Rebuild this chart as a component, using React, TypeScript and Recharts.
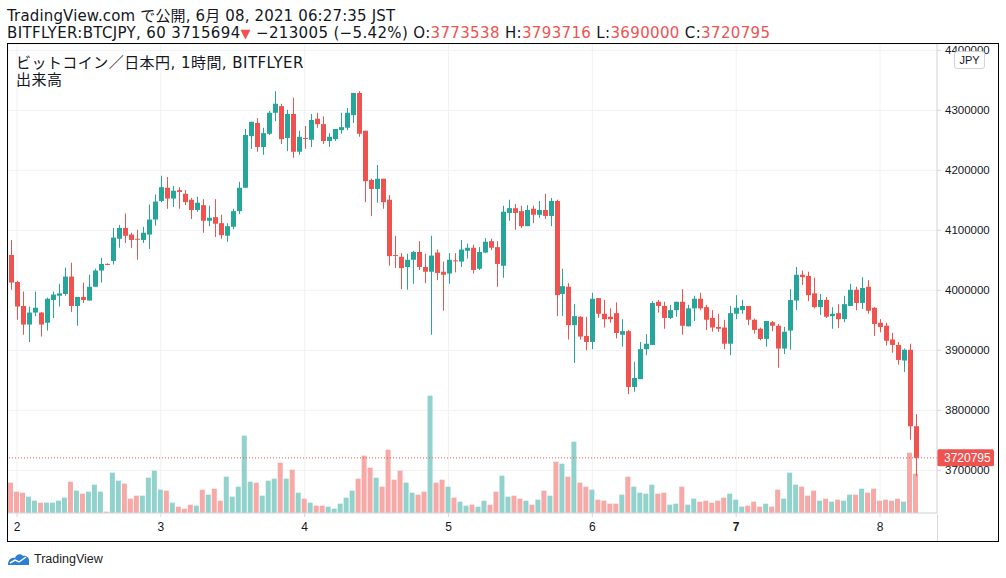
import React from 'react';
import { ComposedChart, Bar, XAxis, YAxis, CartesianGrid, ReferenceLine, Cell } from 'recharts';

// BITFLYER BTC/JPY, 1h candles from Jun 1 23:00 JST. prices in thousand yen
const open = [
  4059, 4014, 3974, 3943, 3963, 3963, 3946, 3984, 3991, 3994,
  4023, 3974, 3989, 3983, 4006, 4033, 4044, 4049, 4086, 4104,
  4093, 4086, 4084, 4093, 4118, 4149, 4171, 4153, 4167, 4161,
  4151, 4134, 4142, 4116, 4122, 4112, 4091, 4106, 4132, 4171,
  4257, 4279, 4239, 4261, 4296, 4307, 4254, 4294, 4231, 4254,
  4251, 4286, 4277, 4249, 4252, 4267, 4271, 4292, 4329, 4266,
  4184, 4169, 4186, 4151, 4059, 4056, 4039, 4051, 4064, 4039,
  4031, 4063, 4031, 4028, 4050, 4048, 4066, 4071, 4036, 4063,
  4082, 4072, 4041, 4129, 4137, 4132, 4107, 4136, 4126, 4134,
  4124, 4149, 3994, 4006, 3942, 3956, 3924, 3914, 3987, 3961,
  3956, 3962, 3926, 3932, 3839, 3852, 3902, 3909, 3981, 3974,
  3954, 3967, 3981, 3940, 3970, 3986, 3972, 3954, 3939, 3938,
  3911, 3961, 3967, 3974, 3951, 3936, 3919, 3947, 3941, 3903,
  3933, 3983, 4026, 4024, 3995, 3972, 3984, 3957, 3962, 3952,
  3974, 4001, 3979, 4006, 3971, 3946, 3941, 3918, 3909, 3883,
  3901, 3773.538,
];
const high = [
  4084, 4016, 3998, 3973, 3998, 3964, 3988, 3998, 4011, 4038,
  4046, 3989, 4013, 4026, 4036, 4054, 4045, 4104, 4109, 4128,
  4096, 4101, 4106, 4143, 4160, 4191, 4189, 4174, 4172, 4167,
  4154, 4156, 4152, 4141, 4152, 4126, 4112, 4136, 4181, 4269,
  4281, 4287, 4271, 4299, 4332, 4311, 4301, 4321, 4266, 4274,
  4294, 4296, 4290, 4262, 4269, 4296, 4304, 4329, 4332, 4266,
  4186, 4209, 4186, 4159, 4091, 4062, 4061, 4066, 4082, 4061,
  4091, 4068, 4048, 4062, 4062, 4084, 4078, 4076, 4072, 4087,
  4086, 4082, 4141, 4151, 4144, 4141, 4142, 4141, 4149, 4161,
  4154, 4151, 4036, 4012, 3977, 3957, 3956, 3996, 3987, 3984,
  3970, 3980, 3952, 3934, 3881, 3914, 3927, 3982, 3984, 3981,
  3976, 3981, 4002, 3976, 3991, 3996, 3976, 3967, 3961, 3951,
  3974, 3992, 3984, 3974, 3953, 3938, 3949, 3949, 3944, 3939,
  4002, 4039, 4033, 4031, 4021, 3994, 3989, 3972, 3977, 3991,
  4011, 4006, 4022, 4017, 3972, 3952, 3946, 3929, 3914, 3903,
  3911, 3793.716,
];
const low = [
  4001, 3951, 3926, 3914, 3957, 3923, 3933, 3954, 3973, 3991,
  3964, 3941, 3979, 3983, 4006, 4013, 4043, 4043, 4071, 4079,
  4071, 4051, 4079, 4069, 4108, 4147, 4136, 4139, 4136, 4142,
  4119, 4131, 4096, 4107, 4089, 4086, 4081, 4102, 4127, 4171,
  4236, 4231, 4226, 4259, 4282, 4244, 4232, 4221, 4226, 4236,
  4239, 4271, 4244, 4239, 4249, 4261, 4267, 4279, 4256, 4147,
  4124, 4146, 4136, 4041, 4037, 4002, 4001, 4011, 4034, 4012,
  3926, 4017, 3966, 4011, 4030, 4039, 4053, 4028, 4034, 4062,
  4067, 4006, 4021, 4116, 4101, 4104, 4107, 4112, 4121, 4119,
  4107, 3957, 3957, 3918, 3879, 3918, 3900, 3902, 3954, 3938,
  3946, 3920, 3906, 3827, 3831, 3852, 3892, 3909, 3963, 3936,
  3952, 3956, 3926, 3940, 3949, 3967, 3934, 3931, 3931, 3902,
  3892, 3952, 3961, 3942, 3928, 3917, 3906, 3932, 3871, 3894,
  3901, 3967, 4009, 3982, 3970, 3959, 3954, 3936, 3937, 3947,
  3974, 3967, 3969, 3961, 3924, 3930, 3908, 3896, 3876, 3864,
  3751, 3690,
];
const close = [
  4013, 3973, 3943, 3963, 3971, 3943, 3986, 3993, 3995, 4023,
  3974, 3989, 3984, 4006, 4033, 4044, 4043, 4088, 4104, 4091,
  4084, 4085, 4096, 4118, 4148, 4172, 4153, 4166, 4164, 4147,
  4134, 4146, 4116, 4121, 4111, 4092, 4107, 4132, 4171, 4259,
  4281, 4239, 4262, 4296, 4311, 4252, 4294, 4231, 4256, 4253,
  4284, 4277, 4249, 4256, 4269, 4272, 4296, 4329, 4261, 4182,
  4169, 4186, 4147, 4057, 4058, 4037, 4051, 4064, 4039, 4031,
  4058, 4029, 4026, 4051, 4049, 4068, 4071, 4034, 4064, 4081,
  4071, 4044, 4131, 4137, 4129, 4107, 4134, 4126, 4134, 4124,
  4149, 3992, 4007, 3942, 3957, 3923, 3914, 3986, 3961, 3952,
  3952, 3929, 3932, 3839, 3854, 3902, 3911, 3979, 3974, 3954,
  3967, 3981, 3941, 3970, 3986, 3970, 3951, 3938, 3936, 3911,
  3962, 3971, 3974, 3951, 3934, 3919, 3949, 3941, 3903, 3931,
  3984, 4026, 4022, 3992, 3972, 3984, 3956, 3961, 3952, 3977,
  4001, 3979, 4004, 3966, 3944, 3939, 3916, 3909, 3884, 3901,
  3773.5, 3720.795,
];
// 出来高
const volume = [
  91, 64, 61, 49, 37, 31, 31, 31, 37, 46,
  94, 67, 58, 64, 85, 64, 4, 121, 97, 88,
  43, 52, 52, 106, 127, 70, 67, 31, 19, 13,
  25, 22, 70, 55, 73, 37, 109, 49, 79, 232,
  94, 91, 52, 97, 103, 151, 103, 130, 61, 43,
  31, 22, 22, 19, 13, 28, 46, 67, 103, 172,
  136, 106, 79, 190, 100, 127, 91, 61, 55, 64,
  352, 91, 100, 79, 46, 34, 22, 25, 19, 37,
  25, 64, 112, 49, 52, 43, 37, 25, 40, 67,
  52, 154, 148, 109, 214, 91, 79, 70, 40, 37,
  28, 28, 55, 109, 79, 61, 58, 85, 58, 61,
  25, 28, 79, 25, 43, 34, 37, 31, 37, 46,
  58, 40, 19, 22, 34, 19, 28, 19, 70, 43,
  121, 85, 79, 52, 67, 37, 43, 34, 40, 37,
  55, 55, 73, 61, 73, 37, 40, 37, 43, 34,
  181, 118,
];

const priceTicks = [3700000, 3800000, 3900000, 4000000, 4100000, 4200000, 4300000, 4400000];
const dayTicks = ['2', '3', '4', '5', '6', '7', '8'];
const lastPrice = 3720795;

const UP = '#26a69a';
const DOWN = '#ef5350';
const UP_VOL = '#92d2cc';
const DOWN_VOL = '#f7a9a7';
const TEXT = '#131722';
const FONT = "'Liberation Sans', 'Noto Sans CJK JP', sans-serif";
const HEAD_FONT = "'DejaVu Sans', 'Noto Sans CJK JP', sans-serif";

// hourly slots starting 1日 23:00
const data = open.map((o, i) => {
  const h = (23 + i) % 24;
  const d = 1 + Math.floor((23 + i) / 24);
  return {
    t: h === 0 ? String(d) : `${d} ${h}:00`,
    open: o * 1000,
    high: high[i] * 1000,
    low: low[i] * 1000,
    close: close[i] * 1000,
    volume: volume[i],
  };
});

const Candle = (props: any) => {
  const { x, y, width, height, payload } = props;
  if (!payload) return null;
  const top = Math.min(y, y + height);
  const h = Math.abs(height);
  const k = h / (payload.high - payload.low);
  const yOf = (v: number) => top + (payload.high - v) * k;
  const cx = Math.round(x + width / 2);
  const up = payload.close >= payload.open;
  const color = up ? UP : DOWN;
  const bTop = yOf(Math.max(payload.open, payload.close));
  const bBot = yOf(Math.min(payload.open, payload.close));
  return (
    <g>
      <rect x={cx} y={top} width={1} height={h} fill={color} />
      <rect x={cx - 2} y={bTop} width={5} height={Math.max(1, bBot - bTop)} fill={color} />
    </g>
  );
};

const PriceTag = (props: any) => {
  const vb = props.viewBox || {};
  const x = vb.x + vb.width;
  const y = vb.y;
  return (
    <g>
      <rect x={x} y={y - 8.5} width={57} height={17} rx={2} fill={DOWN} />
      <text x={x + 7} y={y + 4.5} fill="#fff" fontSize={12} fontFamily={FONT}>
        {lastPrice}
      </text>
    </g>
  );
};

const DayTick = (props: any) => {
  const { x, y, payload } = props;
  return (
    <text x={x} y={y + 12} textAnchor="middle" fill={TEXT} fontSize={12} fontFamily={FONT}
      fontWeight={payload.value === '7' ? 700 : 400}>
      {payload.value}
    </text>
  );
};

const red = { color: DOWN };

export default function App() {
  return (
    <div style={{ position: 'absolute', left: 0, top: 0, width: 1006, height: 578, background: '#fff', fontFamily: FONT, color: TEXT }}>
      <div style={{ position: 'absolute', left: 7, top: 8, fontSize: 15, lineHeight: '16.5px', whiteSpace: 'nowrap', fontFamily: HEAD_FONT }}>
        <div style={{ letterSpacing: 0.15 }}>TradingView.com で公開, 6月 08, 2021 06:27:35 JST</div>
        <div style={{ letterSpacing: 0.35 }}>
          BITFLYER:BTCJPY, 60 3715694<span style={{ ...red, fontSize: 13 }}>▼</span> −213005 (−5.42%) O:<span style={red}>3773538</span> H:<span style={red}>3793716</span> L:<span style={red}>3690000</span> C:<span style={red}>3720795</span>
        </div>
      </div>

      <div style={{ position: 'absolute', left: 7, top: 43, width: 990, height: 497, border: '1px solid #000' }}>
        <ComposedChart width={990} height={497} data={data} margin={{ top: 0, right: 0, bottom: 0, left: 0 }}>
          <CartesianGrid xAxisId="p" yAxisId="p" stroke="#f0f1f4" />
          <XAxis xAxisId="p" dataKey="t" ticks={dayTicks} interval={0} padding={{ left: 0, right: 18 }}
            height={28} stroke="#d6d8de" tickSize={4} tick={<DayTick />} />
          <XAxis xAxisId="v" dataKey="t" hide padding={{ left: 0, right: 18 }} />
          <YAxis yAxisId="p" orientation="right" width={61} domain={[3628900, 4410600]} allowDataOverflow
            ticks={priceTicks} interval={0} stroke="#d6d8de" tickSize={4} tickMargin={4}
            tick={{ fill: TEXT, fontSize: 11.5, fontFamily: FONT, textAnchor: 'start' }} />
          <YAxis yAxisId="v" hide domain={[0, 1407]} />
          <Bar xAxisId="v" yAxisId="v" dataKey="volume" barSize={5} isAnimationActive={false}>
            {data.map((d, i) => (
              <Cell key={i} fill={d.close >= d.open ? UP_VOL : DOWN_VOL} />
            ))}
          </Bar>
          <Bar xAxisId="p" yAxisId="p" dataKey={(d: any) => [d.low, d.high]} shape={<Candle />} isAnimationActive={false} />
          <ReferenceLine xAxisId="p" yAxisId="p" y={lastPrice} stroke={DOWN} strokeDasharray="1 2" label={<PriceTag />} />
        </ComposedChart>
        <div style={{ position: 'absolute', left: 929, top: 470, width: 1, height: 27, background: '#d6d8de' }} />
        <div style={{ position: 'absolute', left: 8, top: 11, fontSize: 15, lineHeight: '17px', whiteSpace: 'nowrap', fontFamily: HEAD_FONT, letterSpacing: 0.45 }}>
          <div>ビットコイン／日本円, 1時間, BITFLYER</div>
          <div>出来高</div>
        </div>
        <div style={{ position: 'absolute', left: 946, top: 7, width: 29, height: 16, border: '1px solid #d1d4dc', borderRadius: 3,
          background: '#fff', fontSize: 11, lineHeight: '16px', textAlign: 'center' }}>JPY</div>
      </div>

      <div style={{ position: 'absolute', left: 7, top: 551, display: 'flex', alignItems: 'center', fontSize: 12.5, color: '#222' }}>
        <svg width={24} height={16} viewBox="0 0 24 16">
          <path d="M1 14 C1 9 4 6 8 7 C9 3 14 2 16 5 C19 4 23 7 22 11 L22 14 Z" fill="#2a7fd4" />
          <path d="M3 12 L8 9 L12 11 L19 6" stroke="#fff" strokeWidth={1.5} fill="none" />
        </svg>
        <span style={{ marginLeft: 3 }}>TradingView</span>
      </div>
    </div>
  );
}
